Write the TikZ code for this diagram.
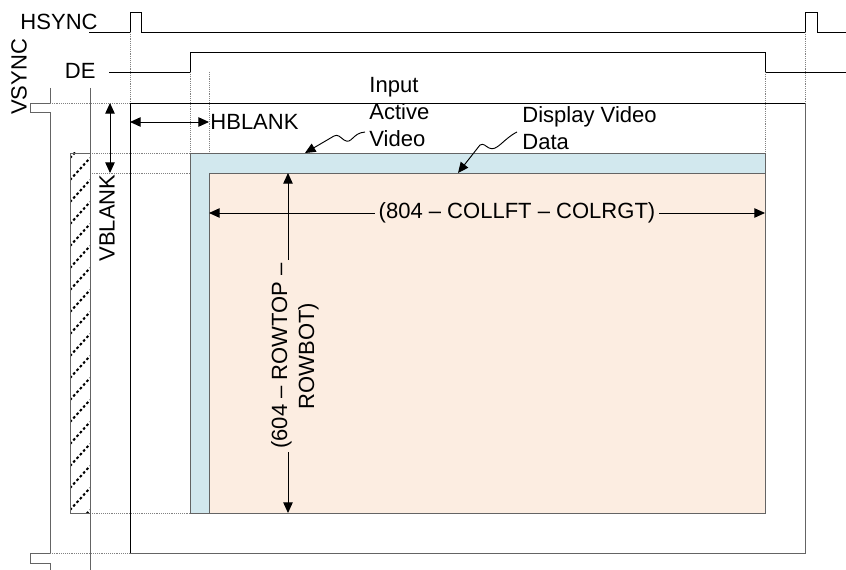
\documentclass[tikz,border=0pt]{standalone}
\usepackage{fontspec}
\setmainfont{Liberation Sans}
\usepackage{xcolor}
\definecolor{vidblue}{RGB}{210,232,238}
\definecolor{vidpeach}{RGB}{252,237,225}
\definecolor{vidgray}{RGB}{100,100,100}
\definecolor{dotgray}{RGB}{130,130,130}
\usetikzlibrary{arrows.meta, positioning}

\tikzset{
  sig/.style={black, line width=0.8pt},
  guide/.style={dotgray, line width=0.8pt, dash pattern=on 0.8pt off 0.8pt},
  dimarrow/.style={black, line width=0.8pt,
    {Triangle[length=9pt,width=8pt]}-{Triangle[length=9pt,width=8pt]}},
  leader/.style={black, line width=0.8pt, -{Triangle[length=9pt,width=8pt]}},
  lbl/.style={font=\fontsize{18.8}{23}\selectfont, inner sep=1pt},
}

\begin{document}
\begin{tikzpicture}[x=0.03cm, y=-0.03cm]
\useasboundingbox (0,0) rectangle (846,570);

% ===== Sync waveforms =====
\node[lbl, anchor=east] (hsynclbl) at (99,22) {HSYNC};
\draw[sig] (89,32) -- (130,32) -- (130,12) -- (141,12) -- (141,32)
  -- (805,32) -- (805,12) -- (817,12) -- (817,32) -- (846,32);

\node[lbl, anchor=east] (delbl) at (97,71) {DE};
\draw[sig] (109,72) -- (190,72) -- (190,52) -- (765,52) -- (765,72) -- (846,72);

\node[lbl, rotate=90] (vsynclbl) at (19,77) {VSYNC};
\draw[sig, vidgray] (50,88) -- (50,103) -- (30,103) -- (30,112) -- (50,112)
  -- (50,553) -- (30,553) -- (30,563) -- (50,563) -- (50,570);
\draw[sig, vidgray] (90,88) -- (90,570);

% ===== Frame =====
\draw[sig] (130,553) -- (130,103) -- (805,103);
\draw[sig, vidgray] (805,103) -- (805,553) -- (130,553);

% Guides
\draw[guide] (130,32) -- (130,103);
\draw[guide] (805,32) -- (805,103);
\draw[guide] (50,103) -- (130,103);
\draw[guide] (50,553) -- (130,553);
\draw[guide] (190,72) -- (190,153);
\draw[guide] (209,72) -- (209,173);
\draw[guide] (765,72) -- (765,153);
\draw[guide] (90,153) -- (190,153);
\draw[guide] (90,173) -- (209,173);
\draw[guide] (90,513) -- (190,513);

% Blanked column (hatched)
\begin{scope}
  \clip (70,153) rectangle (90,513);
  \foreach \y in {158,180,...,540}
    \draw[black, line width=1.7pt, dash pattern=on 2.2pt off 2pt] (70,\y) -- (90,\y-22);
\end{scope}
\draw[sig, vidgray] (70,153) rectangle (90,513);

% Input / display video
\draw[sig, vidgray, fill=vidblue] (190,153) rectangle (765,513);
\draw[sig, vidgray, fill=vidpeach] (209,173) rectangle (765,513);

% ===== Blanking =====
\coordinate (vbTop) at (110,103);
\coordinate (vbBot) at (110,173);
\draw[dimarrow] (vbTop) -- (vbBot);
\node[lbl, rotate=90] (vblank) at (107,218) {VBLANK};

\coordinate (hbLeft) at (130,122);
\node[lbl, anchor=west] (hblank) at (209,122) {HBLANK};
\draw[dimarrow] (hbLeft) -- (hblank.west);

% ===== Dimensions =====
\coordinate (colLeft) at (209,213);
\coordinate (colRight) at (765,213);
\draw[dimarrow] (colLeft) -- (colRight);
\node[lbl, fill=vidpeach, inner sep=3pt] (cols) at (517,213) {(804 – COLLFT – COLRGT)};

\coordinate (rowTop) at (288,173);
\coordinate (rowBot) at (288,513);
\draw[dimarrow] (rowTop) -- (rowBot);
\node[lbl, rotate=90, fill=vidpeach, align=center, inner sep=3pt] (rows) at (295,356)
  {(604 – ROWTOP –\\ROWBOT)};

% ===== Callouts =====
\node[lbl, align=left, anchor=west] (inlbl) at (368,112) {Input\\Active\\Video};
\coordinate (inStart) at (365,132);
\coordinate (inTip) at (305,153);
\draw[leader] (inStart) .. controls (352,133) and (352,145) .. (344,140)
  .. controls (340,137) and (338,134) .. (334,136) -- (inTip);

\node[lbl, align=left, anchor=west] (displbl) at (521,128) {Display Video\\Data};
\coordinate (dispStart) at (517,132);
\coordinate (dispTip) at (458,173);
\draw[leader] (dispStart) .. controls (503,139) and (497,152) .. (489,148)
  .. controls (485,146) and (484,143) .. (480,145) -- (dispTip);

\end{tikzpicture}
\end{document}
